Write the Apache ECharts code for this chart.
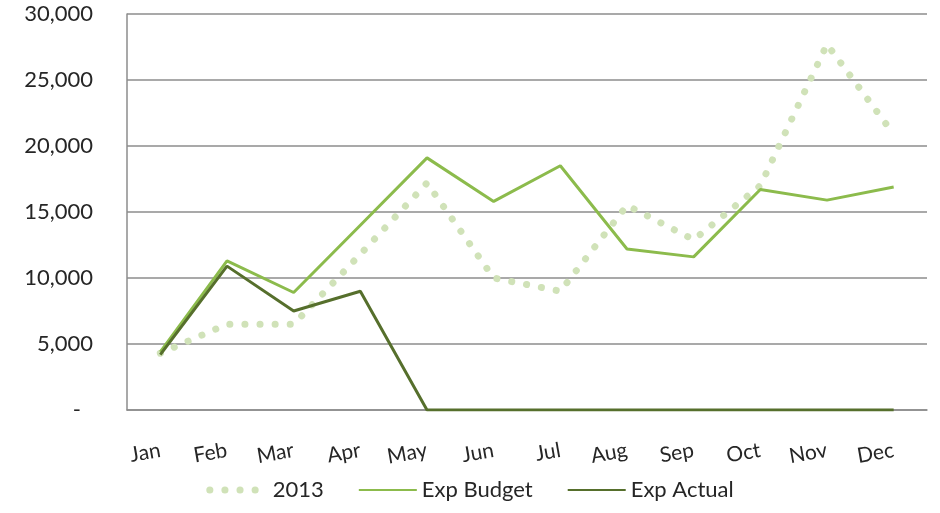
<!DOCTYPE html>
<html>
<head>
<meta charset="utf-8">
<script src="https://cdn.jsdelivr.net/npm/echarts@6/dist/echarts.min.js"></script>
<style>html,body{margin:0;padding:0;background:#fff}#c{width:940px;height:513px}</style>
</head>
<body>
<div id="c"></div>
<script>
const months = ['Jan','Feb','Mar','Apr','May','Jun','Jul','Aug','Sep','Oct','Nov','Dec'];
const y2013 = [4300, 6500, 6500, 11800, 17200, 10000, 9000, 15500, 12900, 17000, 27700, 20900];
const expBudget = [4400, 11300, 8900, 14000, 19100, 15800, 18500, 12200, 11600, 16700, 15900, 16900];
const expActual = [4200, 10900, 7500, 9000, 0, 0, 0, 0, 0, 0, 0, 0];
const yTicks = [0, 5000, 10000, 15000, 20000, 25000, 30000];

const font = 'Lato';
const dotStyle = { color: '#d0e2b8', width: 7, type: [0.1, 15], cap: 'round' };
const chart = echarts.init(document.getElementById('c'));
chart.setOption({
  animation: false,
  textStyle: { fontFamily: font },
  grid: { left: 127, right: 13, top: 14, bottom: 103 },
  xAxis: {
    type: 'category',
    data: months,
    boundaryGap: true,
    axisLine: { lineStyle: { color: '#8c8c8c', width: 1.5 } },
    axisTick: { show: false },
    axisLabel: { rotate: 10, margin: 40, fontSize: 21, color: '#262626', fontFamily: font }
  },
  yAxis: {
    type: 'value',
    min: yTicks[0],
    max: yTicks[yTicks.length - 1],
    interval: yTicks[1] - yTicks[0],
    axisLine: { show: true, lineStyle: { color: '#8c8c8c', width: 1.5 } },
    axisTick: { show: false },
    splitLine: { lineStyle: { color: '#8c8c8c', width: 1.5 } },
    axisLabel: {
      margin: 34, fontSize: 22, color: '#262626', fontFamily: font,
      formatter: v => v === 0 ? '{z|-}' : v.toLocaleString('en-US'),
      rich: { z: { fontSize: 22, color: '#262626', fontFamily: font, padding: [0, 12, 0, 0] } }
    }
  },
  legend: {
    bottom: 7,
    left: 'center',
    itemWidth: 58,
    itemHeight: 10,
    itemGap: 34,
    itemStyle: { opacity: 0 },
    textStyle: { fontSize: 22, color: '#262626', fontFamily: font },
    data: [
      { name: '2013', lineStyle: dotStyle },
      'Exp Budget',
      'Exp Actual'
    ]
  },
  series: [
    {
      name: '2013', type: 'line', data: y2013, symbol: 'none', z: 1,
      lineStyle: dotStyle,
      itemStyle: { color: '#d0e2b8' }
    },
    {
      name: 'Exp Budget', type: 'line', data: expBudget, symbol: 'none', z: 2,
      lineStyle: { color: '#8cbb4c', width: 3 },
      itemStyle: { color: '#8cbb4c' }
    },
    {
      name: 'Exp Actual', type: 'line', data: expActual, symbol: 'none', z: 3,
      lineStyle: { color: '#566f2c', width: 3 },
      itemStyle: { color: '#566f2c' }
    }
  ]
});
</script>
</body>
</html>
